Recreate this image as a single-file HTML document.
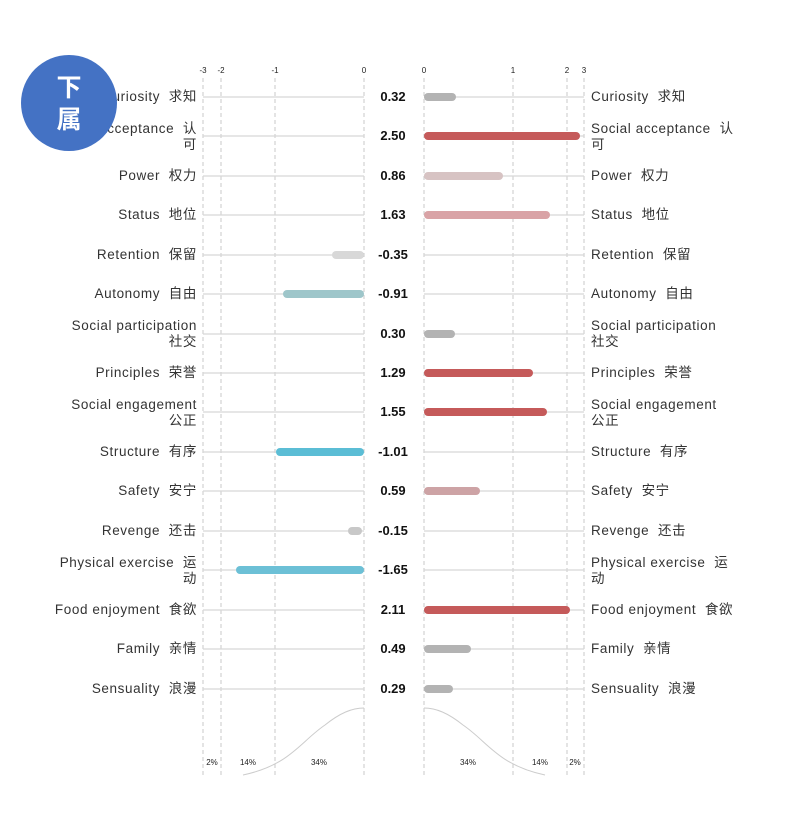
<!DOCTYPE html>
<html><head><meta charset="utf-8"><style>
html,body{margin:0;padding:0;background:#fff;}
svg{display:block;font-family:"Liberation Sans","Noto Sans CJK SC",sans-serif;}
text{white-space:pre;}
.l{font-size:13.5px;letter-spacing:0.6px;fill:#333;text-anchor:end;}
.r{font-size:13.5px;letter-spacing:0.6px;fill:#333;}
.v{font-size:13px;font-weight:bold;fill:#111;text-anchor:middle;}
.t{font-size:8px;fill:#222;text-anchor:middle;}
</style></head><body>
<svg width="793" height="830" viewBox="0 0 793 830">
<g stroke="#c8c8c8" stroke-dasharray="4,3" stroke-width="1">
<line x1="203" y1="78" x2="203" y2="775"/><line x1="221" y1="78" x2="221" y2="775"/>
<line x1="275" y1="78" x2="275" y2="775"/><line x1="364" y1="78" x2="364" y2="775"/>
<line x1="424" y1="78" x2="424" y2="775"/><line x1="513" y1="78" x2="513" y2="775"/>
<line x1="567" y1="78" x2="567" y2="775"/><line x1="584" y1="78" x2="584" y2="775"/>
</g>
<g class="t"><text x="203" y="73">-3</text><text x="221" y="73">-2</text><text x="275" y="73">-1</text><text x="364" y="73">0</text>
<text x="424" y="73">0</text><text x="513" y="73">1</text><text x="567" y="73">2</text><text x="584" y="73">3</text></g>
<g stroke="#d8d8d8" stroke-width="1.2">
<line x1="203" x2="364" y1="97" y2="97"/><line x1="424" x2="584" y1="97" y2="97"/>
<line x1="203" x2="364" y1="136" y2="136"/><line x1="424" x2="584" y1="136" y2="136"/>
<line x1="203" x2="364" y1="176" y2="176"/><line x1="424" x2="584" y1="176" y2="176"/>
<line x1="203" x2="364" y1="215" y2="215"/><line x1="424" x2="584" y1="215" y2="215"/>
<line x1="203" x2="364" y1="255" y2="255"/><line x1="424" x2="584" y1="255" y2="255"/>
<line x1="203" x2="364" y1="294" y2="294"/><line x1="424" x2="584" y1="294" y2="294"/>
<line x1="203" x2="364" y1="334" y2="334"/><line x1="424" x2="584" y1="334" y2="334"/>
<line x1="203" x2="364" y1="373" y2="373"/><line x1="424" x2="584" y1="373" y2="373"/>
<line x1="203" x2="364" y1="412" y2="412"/><line x1="424" x2="584" y1="412" y2="412"/>
<line x1="203" x2="364" y1="452" y2="452"/><line x1="424" x2="584" y1="452" y2="452"/>
<line x1="203" x2="364" y1="491" y2="491"/><line x1="424" x2="584" y1="491" y2="491"/>
<line x1="203" x2="364" y1="531" y2="531"/><line x1="424" x2="584" y1="531" y2="531"/>
<line x1="203" x2="364" y1="570" y2="570"/><line x1="424" x2="584" y1="570" y2="570"/>
<line x1="203" x2="364" y1="610" y2="610"/><line x1="424" x2="584" y1="610" y2="610"/>
<line x1="203" x2="364" y1="649" y2="649"/><line x1="424" x2="584" y1="649" y2="649"/>
<line x1="203" x2="364" y1="689" y2="689"/><line x1="424" x2="584" y1="689" y2="689"/>
</g>
<g stroke-width="8" stroke-linecap="round">
<line x1="428" x2="452" y1="97" y2="97" stroke="#b3b3b3"/>
<line x1="428" x2="576" y1="136" y2="136" stroke="#c55a5a"/>
<line x1="428" x2="499" y1="176" y2="176" stroke="#d7c3c3"/>
<line x1="428" x2="546" y1="215" y2="215" stroke="#d9a3a6"/>
<line x1="336" x2="360" y1="255" y2="255" stroke="#d8d8d8"/>
<line x1="287" x2="360" y1="294" y2="294" stroke="#9ec6ca"/>
<line x1="428" x2="451" y1="334" y2="334" stroke="#b3b3b3"/>
<line x1="428" x2="529" y1="373" y2="373" stroke="#c55a5a"/>
<line x1="428" x2="543" y1="412" y2="412" stroke="#c55a5a"/>
<line x1="280" x2="360" y1="452" y2="452" stroke="#5bbdd5"/>
<line x1="428" x2="476" y1="491" y2="491" stroke="#cda3a5"/>
<line x1="352" x2="358" y1="531" y2="531" stroke="#c8c8c8"/>
<line x1="240" x2="360" y1="570" y2="570" stroke="#6cc0d6"/>
<line x1="428" x2="566" y1="610" y2="610" stroke="#c55a5a"/>
<line x1="428" x2="467" y1="649" y2="649" stroke="#b3b3b3"/>
<line x1="428" x2="449" y1="689" y2="689" stroke="#b3b3b3"/>
</g>
<path d="M243,775 C290,765 300,742 325,725 C340,713 352,708 364,708" fill="none" stroke="#ccc"/>
<path d="M545,775 C498,765 488,742 463,725 C448,713 436,708 424,708" fill="none" stroke="#ccc"/>
<g class="t"><text x="212" y="765">2%</text><text x="248" y="765">14%</text><text x="319" y="765">34%</text>
<text x="468" y="765">34%</text><text x="540" y="765">14%</text><text x="575" y="765">2%</text></g>
<g class="l">
<text x="197" y="101">Curiosity  求知</text>
<text x="197" y="133">Social acceptance  认</text><text x="197" y="149">可</text>
<text x="197" y="180">Power  权力</text>
<text x="197" y="219">Status  地位</text>
<text x="197" y="259">Retention  保留</text>
<text x="197" y="298">Autonomy  自由</text>
<text x="197" y="330">Social participation</text><text x="197" y="346">社交</text>
<text x="197" y="377">Principles  荣誉</text>
<text x="197" y="409">Social engagement</text><text x="197" y="425">公正</text>
<text x="197" y="456">Structure  有序</text>
<text x="197" y="495">Safety  安宁</text>
<text x="197" y="535">Revenge  还击</text>
<text x="197" y="567">Physical exercise  运</text><text x="197" y="583">动</text>
<text x="197" y="614">Food enjoyment  食欲</text>
<text x="197" y="653">Family  亲情</text>
<text x="197" y="693">Sensuality  浪漫</text>
</g>
<g class="v">
<text x="393" y="101">0.32</text><text x="393" y="140">2.50</text><text x="393" y="180">0.86</text><text x="393" y="219">1.63</text>
<text x="393" y="259">-0.35</text><text x="393" y="298">-0.91</text><text x="393" y="338">0.30</text><text x="393" y="377">1.29</text>
<text x="393" y="416">1.55</text><text x="393" y="456">-1.01</text><text x="393" y="495">0.59</text><text x="393" y="535">-0.15</text>
<text x="393" y="574">-1.65</text><text x="393" y="614">2.11</text><text x="393" y="653">0.49</text><text x="393" y="693">0.29</text>
</g>
<g class="r">
<text x="591" y="101">Curiosity  求知</text>
<text x="591" y="133">Social acceptance  认</text><text x="591" y="149">可</text>
<text x="591" y="180">Power  权力</text>
<text x="591" y="219">Status  地位</text>
<text x="591" y="259">Retention  保留</text>
<text x="591" y="298">Autonomy  自由</text>
<text x="591" y="330">Social participation</text><text x="591" y="346">社交</text>
<text x="591" y="377">Principles  荣誉</text>
<text x="591" y="409">Social engagement</text><text x="591" y="425">公正</text>
<text x="591" y="456">Structure  有序</text>
<text x="591" y="495">Safety  安宁</text>
<text x="591" y="535">Revenge  还击</text>
<text x="591" y="567">Physical exercise  运</text><text x="591" y="583">动</text>
<text x="591" y="614">Food enjoyment  食欲</text>
<text x="591" y="653">Family  亲情</text>
<text x="591" y="693">Sensuality  浪漫</text>
</g>
<circle cx="69" cy="103" r="48" fill="#4472c4"/>
<text x="69" y="96" text-anchor="middle" font-size="25" font-weight="bold" fill="#fff">下</text>
<text x="69" y="128" text-anchor="middle" font-size="25" font-weight="bold" fill="#fff">属</text>
</svg>
</body></html>
